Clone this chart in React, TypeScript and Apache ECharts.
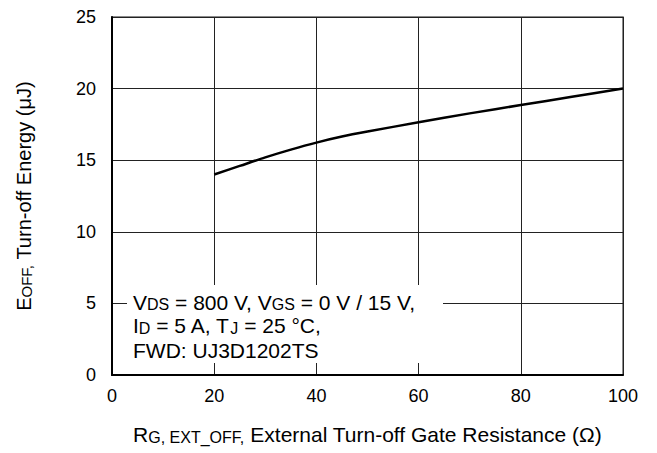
import React, { useEffect, useRef } from "react";
import * as echarts from "echarts";

const resistance = [20, 25, 30, 35, 40, 45, 50, 60, 70, 80, 90, 100];
const eoff = [14.0, 14.6, 15.2, 15.74, 16.23, 16.65, 17.0, 17.65, 18.27, 18.85, 19.43, 20.0];
const xTicks = { min: 0, max: 100, interval: 20 };
const yTicks = { min: 0, max: 25, interval: 5 };
const noteLines = [
  "{r|V}{s|DS}{r| = 800 V, V}{s|GS}{r| = 0 V / 15 V,}",
  "{r|I}{s|D}{r| = 5 A, T}{s|J}{r| = 25 °C,}",
  "{r|FWD: UJ3D1202TS}",
];

const FONT = "'Liberation Sans', Arial, Helvetica, sans-serif";

const makeRich = (big: number, small: number) => ({
  r: { fontSize: big, lineHeight: 26, verticalAlign: "bottom", fontFamily: FONT, color: "#000" },
  s: { fontSize: small, lineHeight: small, verticalAlign: "bottom", fontFamily: FONT, color: "#000" },
});

export default function App() {
  const ref = useRef<HTMLDivElement>(null);
  useEffect(() => {
    document.body.style.margin = "0";
    const chart = echarts.init(ref.current!, null, { renderer: "svg" });
    const data = resistance.map((r, i) => [r, eoff[i]]);
    chart.setOption({
      animation: false,
      backgroundColor: "#fff",
      grid: {
        left: 112,
        right: 34,
        top: 17,
        bottom: 78,
        show: true,
        borderColor: "#666",
        borderWidth: 1.5,
        backgroundColor: "transparent",
      },
      xAxis: {
        type: "value",
        ...xTicks,
        axisLine: { show: true, onZero: false, lineStyle: { color: "#000", width: 2 } },
        axisTick: { show: false },
        splitLine: { show: true, lineStyle: { color: "#222", width: 1 } },
        axisLabel: { fontSize: 18, color: "#000", fontFamily: FONT, margin: 12 },
        name: "{r|R}{s|G, EXT_OFF,}{r| External Turn-off Gate Resistance (Ω)}",
        nameLocation: "middle",
        nameGap: 44,
        nameTextStyle: { rich: makeRich(21, 16) },
      },
      yAxis: {
        type: "value",
        ...yTicks,
        axisLine: { show: true, onZero: false, lineStyle: { color: "#000", width: 2 } },
        axisTick: { show: false },
        splitLine: { show: true, lineStyle: { color: "#222", width: 1 } },
        axisLabel: { fontSize: 18, color: "#000", fontFamily: FONT, margin: 16 },
        name: "{r|E}{s|OFF,}{r| Turn-off Energy (μJ)}",
        nameLocation: "middle",
        nameRotate: 90,
        nameGap: 78,
        nameTextStyle: { rich: makeRich(20, 15) },
      },
      series: [
        {
          type: "line",
          data,
          smooth: 0.3,
          showSymbol: false,
          lineStyle: { color: "#000", width: 2.5 },
          z: 5,
        },
      ],
      graphic: [
        {
          type: "rect",
          z: 100,
          shape: { x: 127, y: 285, width: 316, height: 78 },
          style: { fill: "#fff" },
        },
        ...noteLines.map((t, i) => ({
          type: "text",
          z: 101,
          x: 133,
          y: [299.5, 323, 348][i],
          style: {
            text: t,
            rich: makeRich(21, 16),
            align: "left",
            verticalAlign: "middle",
            font: `21px ${FONT}`,
            fill: "#000",
          },
        })),
      ],
    });
    return () => chart.dispose();
  }, []);
  return (
    <div
      ref={ref}
      style={{ position: "absolute", left: 0, top: 0, width: 657, height: 453 }}
    />
  );
}
